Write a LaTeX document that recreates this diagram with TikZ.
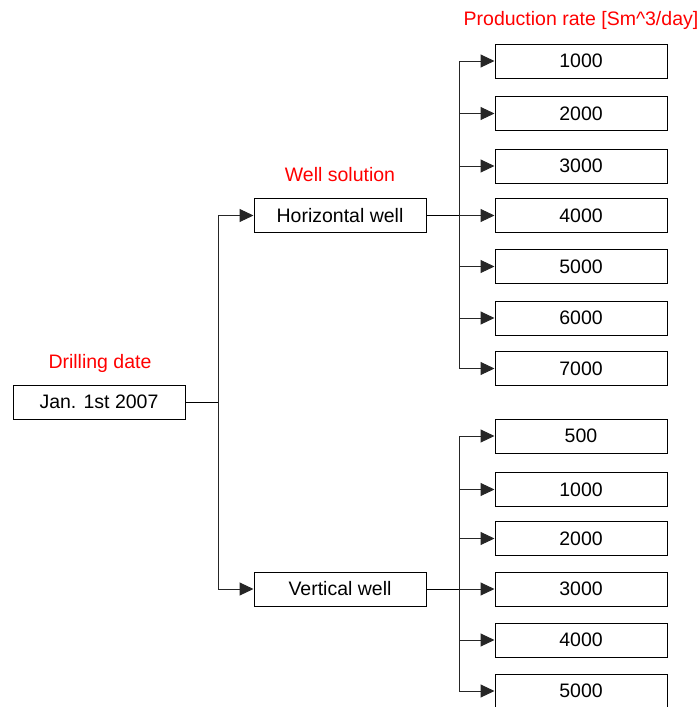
\documentclass[tikz,border=0pt]{standalone}
\usepackage{fontspec}
\setmainfont{Liberation Sans}
\usetikzlibrary{arrows.meta}
\begin{document}
\begin{tikzpicture}[x=1pt,y=-1pt,
  box/.style={draw=black,line width=1pt,minimum width=172pt,minimum height=34pt,inner sep=0pt,font=\fontsize{19.5}{23}\selectfont},
  lbl/.style={text=red,inner sep=0pt,font=\fontsize{19.5}{23}\selectfont},
  arr/.style={draw=black!85,line width=1pt,-{Triangle[length=14pt,width=13pt]}},
  ln/.style={draw=black,line width=1pt}]
\useasboundingbox (0,0) rectangle (699,707);
\node[box] (jan) at (99,402) {Jan. 1st 2007};
\node[lbl] (ldd) at (100,363) {Drilling date};
\node[box] (hw) at (340,215.5) {Horizontal well};
\node[box] (vw) at (340,589) {Vertical well};
\node[lbl] (lws) at (340,175) {Well solution};
\node[lbl] (lpr) at (581,20) {Production rate [Sm\^{}3/day]};
\node[box] (t1) at (581,61) {1000};
\node[box] (t2) at (581,113.5) {2000};
\node[box] (t3) at (581,166) {3000};
\node[box] (t4) at (581,215.5) {4000};
\node[box] (t5) at (581,266.5) {5000};
\node[box] (t6) at (581,318) {6000};
\node[box] (t7) at (581,368.5) {7000};
\node[box] (b1) at (581,436) {500};
\node[box] (b2) at (581,489.5) {1000};
\node[box] (b3) at (581,538.5) {2000};
\node[box] (b4) at (581,589) {3000};
\node[box] (b5) at (581,640) {4000};
\node[box] (b6) at (581,691) {5000};
\coordinate (j1) at ([xshift=33pt]jan.east);
\coordinate (h1) at ([xshift=33pt]hw.east);
\coordinate (v1) at ([xshift=33pt]vw.east);
\draw[ln] (jan.east) -- (j1);
\draw[arr] (j1) |- (hw.west);
\draw[arr] (j1) |- (vw.west);
\draw[ln,line width=1.6pt] (hw.east) -- (h1);
\draw[ln] (vw.east) -- (v1);
\foreach \n in {t1,t2,t3,t4,t5,t6,t7}{\draw[arr] (h1) |- (\n.west);}
\foreach \n in {b1,b2,b3,b4,b5,b6}{\draw[arr] (v1) |- (\n.west);}
\end{tikzpicture}
\end{document}
